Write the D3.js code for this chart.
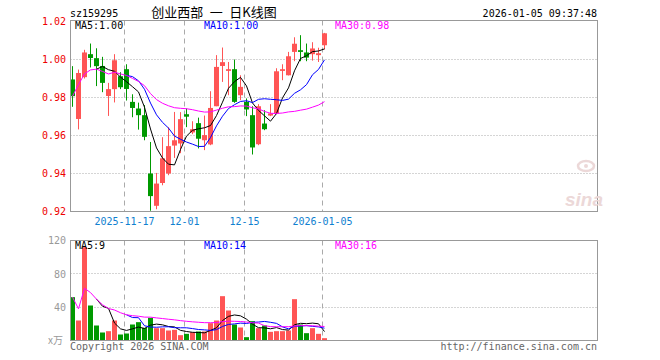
<!DOCTYPE html>
<html>
<head>
<meta charset="utf-8">
<script src="https://cdn.jsdelivr.net/npm/d3@7"></script>
<style>
  body { margin: 0; background: #fff; }
  svg text { font-family: "DejaVu Sans Mono", monospace; font-size: 10px; }
</style>
</head>
<body>
<svg id="chart" width="660" height="360"></svg>
<script>
// daily candles, sz159295
var dates = ["2025-11-04","2025-11-05","2025-11-06","2025-11-07","2025-11-10","2025-11-11","2025-11-12","2025-11-13","2025-11-14",
  "2025-11-17","2025-11-18","2025-11-19","2025-11-20","2025-11-21","2025-11-24","2025-11-25","2025-11-26","2025-11-27","2025-11-28",
  "2025-12-01","2025-12-02","2025-12-03","2025-12-04","2025-12-05","2025-12-08","2025-12-09","2025-12-10","2025-12-11","2025-12-12",
  "2025-12-15","2025-12-16","2025-12-17","2025-12-18","2025-12-19","2025-12-22","2025-12-23","2025-12-24","2025-12-25","2025-12-26",
  "2025-12-29","2025-12-30","2025-12-31","2026-01-05"];
var open  = [0.9895,0.9687,0.9907,1.0028,1.0007,0.9966,0.9808,0.9844,0.9912,0.9949,0.9777,0.9742,0.9707,0.9400,0.9230,0.9350,0.9400,0.9547,0.9558,0.9712,0.9616,0.9665,0.9575,0.9553,0.9754,0.9966,0.9940,0.9949,0.9812,0.9777,0.9707,0.9554,0.9663,0.9705,0.9716,0.9940,0.9917,1.0040,1.0049,1.0037,1.0028,1.0023,1.0075];
var high  = [0.9965,0.9947,1.0051,1.0084,1.0059,1.0014,0.9877,1.0028,0.9933,0.9975,0.9817,0.9773,0.9760,0.9566,0.9403,0.9591,0.9644,0.9724,0.9723,0.9742,0.9675,0.9694,0.9705,0.9833,1.0023,1.0063,0.9987,1.0000,0.9917,0.9795,0.9754,0.9765,0.9733,0.9765,0.9954,0.9975,1.0040,1.0117,1.0128,1.0084,1.0091,1.0062,1.0140];
var low   = [0.9751,0.9632,0.9900,0.9958,0.9860,0.9828,0.9703,0.9774,0.9844,0.9784,0.9696,0.9631,0.9575,0.9204,0.9212,0.9338,0.9391,0.9482,0.9507,0.9644,0.9607,0.9532,0.9523,0.9549,0.9754,0.9882,0.9812,0.9772,0.9786,0.9702,0.9500,0.9549,0.9628,0.9702,0.9712,0.9891,0.9916,0.9991,0.9991,0.9991,0.9994,0.9987,1.0053];
var close = [0.9807,0.9929,1.0037,1.0008,0.9965,0.9877,0.9844,0.9996,0.9854,0.9845,0.9745,0.9707,0.9593,0.9281,0.9347,0.9480,0.9544,0.9575,0.9686,0.9699,0.9633,0.9583,0.9602,0.9745,0.9961,0.9986,0.9949,0.9777,0.9856,0.9737,0.9537,0.9754,0.9633,0.9716,0.9938,0.9949,1.0017,1.0083,1.0040,1.0010,1.0058,1.0033,1.0138];
var volume = [52,24,112,42,18,9.6,11.2,24,7.2,8.4,19.2,22,15.2,27.2,14.8,14.8,12,12.8,6.4,8,10,10.8,10.8,20.8,24,53.2,36,19.2,15.6,4,23.2,14.8,18,10.4,11.2,11.2,12,49.6,19.2,8.8,14.8,8,2.8];

var priceTicks = [0.92,0.94,0.96,0.98,1.00,1.02];
var volTicks = [0,40,80,120];
var dateTicks = ["2025-11-17","2025-12-01","2025-12-15","2026-01-05"];
var dateTickLabels = ["2025-11-17","12-01","12-15","2026-01-05"];
var priceLegend = ["MA5:1.00","MA10:1.00","MA30:0.98"];
var volLegend = ["MA5:9","MA10:14","MA30:16"];

var RED = "#ff5555", GREEN = "#009900", GRID = "#aaaaaa";
var MA_COLORS = ["#000000","#0000ff","#ff00ff"];
var SLOTS = 88;
var LEFT = 70, RIGHT = 598;

var svg = d3.select("#chart");

var x = d3.scaleLinear().domain([0, SLOTS]).range([LEFT, RIGHT]);
var y = d3.scaleLinear().domain([0.92, 1.02]).range([211.5, 21.5]);
var vy = d3.scaleLinear().domain([0, 120]).range([340.5, 240.5]);

var tickIdx = dateTicks.map(function(d) { return dates.indexOf(d); });

var movingAvg = function(vals, n, partial) {
  // partial windows are only used for the long average
  return vals.map(function(v, i) {
    if (i < n - 1 && !partial) return null;
    return d3.mean(vals.slice(Math.max(0, i - n + 1), i + 1));
  });
};

var drawPanel = function(top, bottom, yScale, gridVals) {
  var g = svg.append("g");
  g.selectAll("line.h").data(gridVals).enter().append("line")
    .attr("x1", LEFT + 0.5).attr("x2", RIGHT - 0.5)
    .attr("y1", function(d) { return Math.round(yScale(d) - 0.5) + 0.5; })
    .attr("y2", function(d) { return Math.round(yScale(d) - 0.5) + 0.5; })
    .attr("stroke", GRID).attr("stroke-dasharray", "1,2");
  g.selectAll("line.v").data(tickIdx).enter().append("line")
    .attr("x1", function(i) { return x(i) + 0.5; })
    .attr("x2", function(i) { return x(i) + 0.5; })
    .attr("y1", top).attr("y2", bottom)
    .attr("stroke", GRID).attr("stroke-dasharray", "5,4");
  return g;
};

drawPanel(20.5, 211.5, y, [0.94, 0.96, 0.98, 1.00]);
drawPanel(240.5, 340.5, vy, [40, 80]);

// candles
var idx = d3.range(dates.length);
var colorOf = function(i) { return close[i] >= open[i] ? RED : GREEN; };

svg.append("g").selectAll("line").data(idx).enter().append("line")
  .attr("x1", function(i) { return x(i) + 2.5; })
  .attr("x2", function(i) { return x(i) + 2.5; })
  .attr("y1", function(i) { return y(high[i]); })
  .attr("y2", function(i) { return y(low[i]); })
  .attr("stroke", colorOf);

svg.append("g").selectAll("rect").data(idx).enter().append("rect")
  .attr("x", function(i) { return x(i); })
  .attr("width", 5)
  .attr("y", function(i) { return y(Math.max(open[i], close[i])); })
  .attr("height", function(i) { return Math.max(1, Math.abs(y(open[i]) - y(close[i]))); })
  .attr("fill", colorOf);

// volume bars
svg.append("g").selectAll("rect").data(idx).enter().append("rect")
  .attr("x", function(i) { return x(i); })
  .attr("width", 5)
  .attr("y", function(i) { return vy(volume[i]); })
  .attr("height", function(i) { return vy(0) - vy(volume[i]); })
  .attr("fill", colorOf);

// moving averages
var maLine = function(vals, scale) {
  return d3.line()
    .defined(function(d) { return d != null; })
    .x(function(d, i) { return x(i) + 2.5; })
    .y(function(d) { return scale(d); })(vals);
};
[[5, false], [10, false], [30, true]].forEach(function(m, k) {
  svg.append("path").attr("d", maLine(movingAvg(close, m[0], m[1]), y))
    .attr("fill", "none").attr("stroke", MA_COLORS[k]).attr("stroke-width", 1);
  svg.append("path").attr("d", maLine(movingAvg(volume, m[0], m[1]), vy))
    .attr("fill", "none").attr("stroke", MA_COLORS[k]).attr("stroke-width", 1);
});

// frames
svg.append("rect").attr("x", LEFT + 0.5).attr("y", 20.5).attr("width", RIGHT - LEFT - 1).attr("height", 191)
  .attr("fill", "none").attr("stroke", "#999");
svg.append("rect").attr("x", LEFT + 0.5).attr("y", 240.5).attr("width", RIGHT - LEFT - 1).attr("height", 100)
  .attr("fill", "none").attr("stroke", "#999");

// axes
var yAxis = svg.append("g").attr("transform", "translate(" + LEFT + ",0)")
  .call(d3.axisLeft(y).tickValues(priceTicks).tickFormat(d3.format(".2f")).tickSize(0).tickPadding(4));
yAxis.select(".domain").remove();
yAxis.selectAll("text").attr("fill", "#ee0000").style("font-family", "DejaVu Sans Mono").style("font-size", "10px");

var vAxis = svg.append("g").attr("transform", "translate(" + LEFT + ",0)")
  .call(d3.axisLeft(vy).tickValues(volTicks).tickFormat(function(d) { return d === 0 ? "x万" : d; }).tickSize(0).tickPadding(4));
vAxis.select(".domain").remove();
vAxis.selectAll("text").attr("fill", "#999").style("font-family", "DejaVu Sans Mono").style("font-size", "10px");
vAxis.selectAll("text").filter(function(d) { return d === 0; }).attr("dx", "-3").style("font-family", "Noto Sans CJK SC");

var xAxis = svg.append("g").attr("transform", "translate(0,211.5)")
  .call(d3.axisBottom(x).tickValues(tickIdx).tickFormat(function(d, k) { return dateTickLabels[k]; }).tickSize(0).tickPadding(6));
xAxis.select(".domain").remove();
xAxis.selectAll("text").attr("fill", "#0f80d0").style("font-family", "DejaVu Sans Mono").style("font-size", "10px");

// legends
var legendX = [75, 204, 335];
svg.selectAll("text.pl").data(priceLegend).enter().append("text")
  .attr("x", function(d, k) { return legendX[k]; }).attr("y", 29)
  .attr("fill", function(d, k) { return MA_COLORS[k]; }).text(function(d) { return d; });
svg.selectAll("text.vl").data(volLegend).enter().append("text")
  .attr("x", function(d, k) { return legendX[k]; }).attr("y", 249)
  .attr("fill", function(d, k) { return MA_COLORS[k]; }).text(function(d) { return d; });

// header
svg.append("text").attr("x", 70).attr("y", 16.5).text("sz159295");
svg.append("text").attr("x", 214).attr("y", 17).attr("text-anchor", "middle")
  .style("font-family", "Noto Sans CJK SC").style("font-size", "13px").text("创业西部\u2002一\u2002日K线图");
svg.append("text").attr("x", 597).attr("y", 16.5).attr("text-anchor", "end").text("2026-01-05 09:37:48");

// footer
svg.append("text").attr("x", 70).attr("y", 349.5).attr("fill", "#666").text("Copyright 2026 SINA.COM");
svg.append("text").attr("x", 597).attr("y", 349.5).attr("fill", "#666").attr("text-anchor", "end").text("http://finance.sina.com.cn");

// sina watermark
var wm = svg.append("g").attr("fill", "#ecd8d8");
wm.append("text").attr("x", 565).attr("y", 206).style("font-family", "Liberation Sans")
  .style("font-size", "19px").style("font-weight", "bold").style("font-style", "italic").text("sina");
wm.append("ellipse").attr("cx", 586).attr("cy", 166).attr("rx", 8).attr("ry", 5)
  .attr("fill", "none").attr("stroke", "#ecd8d8").attr("stroke-width", 2.5);
wm.append("circle").attr("cx", 586).attr("cy", 166).attr("r", 2);
</script>
</body>
</html>
